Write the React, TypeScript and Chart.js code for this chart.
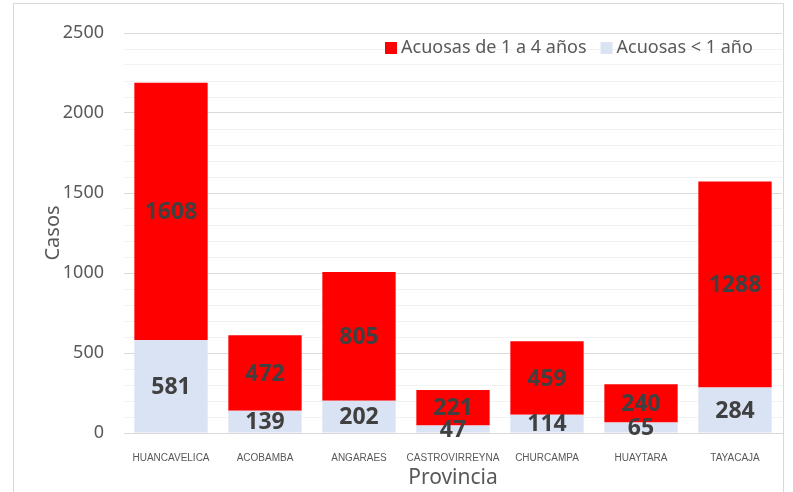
import React, { useEffect, useRef } from 'react';
import { Chart, registerables } from 'chart.js';

Chart.register(...registerables);

const provincias = ['HUANCAVELICA', 'ACOBAMBA', 'ANGARAES', 'CASTROVIRREYNA', 'CHURCAMPA', 'HUAYTARA', 'TAYACAJA'];
const acuosasMenor1 = [581, 139, 202, 47, 114, 65, 284];
const acuosas1a4 = [1608, 472, 805, 221, 459, 240, 1288];
const yMax = 2500;
const yStep = 100;
const yLabelStep = 500;

const RED = '#FF0000';
const LIGHT = '#DAE3F3';
const TEXT = '#595959';
const FONT = "'Noto Sans', 'Liberation Sans', sans-serif";
const NARROW = "'Liberation Sans Narrow', 'Noto Sans', sans-serif";

const frame = {
  id: 'frame',
  beforeDraw(chart: any) {
    const ctx = chart.ctx;
    ctx.save();
    ctx.fillStyle = '#ffffff';
    ctx.fillRect(0, 0, chart.width, chart.height);
    ctx.strokeStyle = '#d9d9d9';
    ctx.lineWidth = 1;
    ctx.strokeRect(13.5, 3.5, 770, 520);
    ctx.restore();
  },
};

const valueLabels = {
  id: 'valueLabels',
  afterDatasetsDraw(chart: any) {
    const ctx = chart.ctx;
    ctx.save();
    ctx.font = `bold 23px ${NARROW}`;
    ctx.fillStyle = '#404040';
    ctx.textAlign = 'center';
    ctx.textBaseline = 'middle';
    chart.data.datasets.forEach((ds: any, i: number) => {
      const meta = chart.getDatasetMeta(i);
      meta.data.forEach((bar: any, j: number) => {
        const p = bar.getProps(['x', 'y', 'base'], true);
        ctx.fillText(String(ds.data[j]), p.x, (p.y + p.base) / 2 + 1);
      });
    });
    ctx.restore();
  },
};

const customLegend = {
  id: 'customLegend',
  afterDraw(chart: any) {
    const ctx = chart.ctx;
    ctx.save();
    ctx.font = `18px ${FONT}`;
    ctx.textBaseline = 'middle';
    ctx.textAlign = 'left';
    const items = [chart.data.datasets[1], chart.data.datasets[0]];
    let x = 385;
    const y = 48;
    items.forEach((ds: any) => {
      ctx.fillStyle = ds.backgroundColor;
      ctx.fillRect(x, y - 6, 12, 12);
      ctx.fillStyle = TEXT;
      ctx.fillText(ds.label, x + 16, y);
      x += 16 + ctx.measureText(ds.label).width + 14;
    });
    ctx.restore();
  },
};

export default function App() {
  const ref = useRef<HTMLCanvasElement>(null);

  useEffect(() => {
    if (!ref.current) return;
    const chart = new Chart(ref.current, {
      type: 'bar',
      data: {
        labels: provincias,
        datasets: [
          {
            label: 'Acuosas < 1 año',
            data: acuosasMenor1,
            backgroundColor: LIGHT,
            barPercentage: 0.78,
            categoryPercentage: 1,
          },
          {
            label: 'Acuosas de 1 a 4 años',
            data: acuosas1a4,
            backgroundColor: RED,
            barPercentage: 0.78,
            categoryPercentage: 1,
          },
        ],
      },
      options: {
        responsive: false,
        animation: false,
        layout: { padding: { left: 13, top: 33, right: 11, bottom: 0 } },
        plugins: {
          legend: { display: false },
          tooltip: { enabled: false },
        },
        scales: {
          x: {
            stacked: true,
            grid: { display: false },
            border: { display: true, color: '#d9d9d9' },
            ticks: {
              color: TEXT,
              font: { family: "'Liberation Sans', sans-serif", size: 10 },
              padding: 11,
              maxRotation: 0,
              autoSkip: false,
            },
            title: {
              display: true,
              text: 'Provincia',
              color: TEXT,
              font: { family: FONT, size: 21 },
              padding: { top: 0, bottom: 1 },
            },
            afterFit(scale: any) {
              scale.height = 59;
            },
          },
          y: {
            stacked: true,
            min: 0,
            max: yMax,
            border: { display: false },
            grid: {
              drawTicks: false,
              color: (c: any) => (c.tick && c.tick.value % yLabelStep === 0 ? '#d9d9d9' : '#f2f2f2'),
            },
            ticks: {
              stepSize: yStep,
              autoSkip: false,
              color: TEXT,
              font: { family: FONT, size: 18 },
              padding: 20,
              callback: (v: any) => (Number(v) % yLabelStep === 0 ? String(v) : ''),
            },
            title: {
              display: true,
              text: 'Casos',
              color: TEXT,
              font: { family: FONT, size: 20 },
              padding: { top: 28, bottom: 0 },
            },
            afterFit(scale: any) {
              scale.width = 111;
            },
          },
        },
      },
      plugins: [frame, valueLabels, customLegend],
    });
    return () => chart.destroy();
  }, []);

  return (
    <div style={{ position: 'fixed', left: 0, top: 0, width: 793, height: 492, background: '#fff' }}>
      <canvas ref={ref} width={793} height={492} />
    </div>
  );
}
